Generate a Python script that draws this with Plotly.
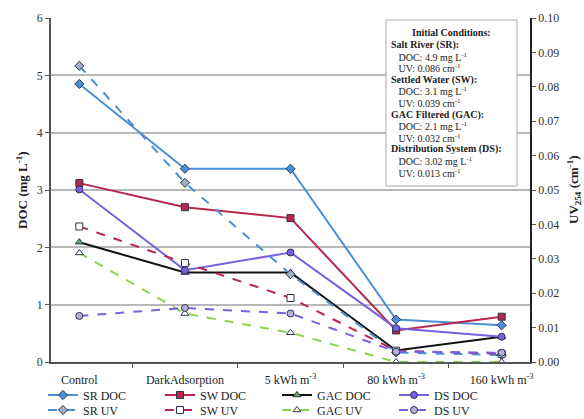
import plotly.graph_objects as go

categories = ["Control", "DarkAdsorption", "5 kWh m<sup>-3</sup>", "80 kWh m<sup>-3</sup>", "160 kWh m<sup>-3</sup>"]
sr_doc = [4.85, 3.37, 3.37, 0.74, 0.64]
sw_doc = [3.12, 2.70, 2.51, 0.55, 0.79]
gac_doc = [2.09, 1.56, 1.56, 0.20, 0.44]
ds_doc = [3.01, 1.60, 1.91, 0.59, 0.44]
sr_uv = [0.0861, 0.0521, 0.0255, 0.0028, 0.0020]
sw_uv = [0.0394, 0.0288, 0.0186, 0.0033, 0.0024]
gac_uv = [0.0317, 0.0141, 0.0085, 0.0, 0.0]
ds_uv = [0.0134, 0.0157, 0.0141, 0.0030, 0.0027]
doc_ticks = [0, 1, 2, 3, 4, 5, 6]
uv_ticks = [0.00, 0.01, 0.02, 0.03, 0.04, 0.05, 0.06, 0.07, 0.08, 0.09, 0.10]

SR = "#4a90d9"
SW = "#b8264c"
GACL = "#8fd14f"
DS = "#7a5fe0"
OUT = "#2b3550"

FONT = "'Liberation Serif', 'Times New Roman', Times, serif"

L, R, T, B = 51, 54, 18, 57
W, H = 584, 419
PW, PH = W - L - R, H - T - B

def px_x(x):
    return (x - L) / PW

def px_y(y):
    return (H - B - y) / PH

fig = go.Figure()

def add(name, y, color, symbol, fill, dash, axis, legend, lw=2, msize=7):
    fig.add_trace(go.Scatter(
        x=categories, y=y, name=name, mode="lines+markers",
        yaxis=axis, legend=legend,
        line=dict(color=color, width=lw, dash=dash),
        marker=dict(symbol=symbol, size=msize, color=fill, line=dict(color=OUT, width=1)),
    ))

add("SR DOC", sr_doc, SR, "diamond", SR, "solid", "y", "legend")
add("SW DOC", sw_doc, SW, "square", SW, "solid", "y", "legend")
add("GAC DOC", gac_doc, "#111111", "triangle-up", "#6aa84f", "solid", "y", "legend")
add("DS DOC", ds_doc, DS, "circle", DS, "solid", "y", "legend")
add("SR UV", sr_uv, SR, "diamond", "#9fb0c4", "dash", "y2", "legend2")
add("SW UV", sw_uv, SW, "square", "white", "dash", "y2", "legend2")
add("GAC UV", gac_uv, GACL, "triangle-up", "white", "dash", "y2", "legend2")
add("DS UV", ds_uv, DS, "circle", "#b6b0d8", "dash", "y2", "legend2")

legend_common = dict(
    orientation="h", x=px_x(43), xanchor="left", yanchor="middle",
    entrywidth=72, entrywidthmode="pixels", font=dict(family=FONT, size=12),
    tracegroupgap=0, itemwidth=30, bgcolor="rgba(0,0,0,0)",
)

fig.update_layout(
    width=W, height=H,
    margin=dict(l=L, r=R, t=T, b=B, autoexpand=False),
    paper_bgcolor="white", plot_bgcolor="white",
    font=dict(family=FONT, size=12, color="#222"),
    xaxis=dict(
        type="category", showgrid=False, showline=True, linecolor="#555", linewidth=1.5,
        ticks="outside", tickson="boundaries", ticklen=4, tickcolor="#555",
        ticklabelstandoff=6,
        tickfont=dict(family=FONT, size=12, color="#222"),
    ),
    yaxis=dict(
        range=[0, 6], tickvals=doc_ticks, showgrid=True, gridcolor="#b8b8b8", gridwidth=1.5,
        showline=True, linecolor="#555", linewidth=1.5, ticks="outside", ticklen=4, tickcolor="#555",
        zeroline=False,
        tickfont=dict(family=FONT, size=12, color="#333"),
    ),
    yaxis2=dict(
        range=[0, 0.10], tickvals=uv_ticks, tickformat=".2f", overlaying="y", side="right",
        showgrid=False, showline=True, linecolor="#222", linewidth=1.5, ticks="outside",
        ticklen=4, tickcolor="#555", zeroline=False,
        tickfont=dict(family=FONT, size=12, color="#333"),
    ),
    legend=dict(legend_common, y=px_y(395)),
    legend2=dict(legend_common, y=px_y(410)),
    showlegend=True,
)

# axis titles
fig.add_annotation(xref="paper", yref="paper", x=px_x(22), y=0.5, xanchor="center", yanchor="middle",
                   text="<b>DOC (mg L<sup>-1</sup>)</b>", textangle=-90, showarrow=False,
                   font=dict(family=FONT, size=13, color="#222"))
fig.add_annotation(xref="paper", yref="paper", x=1, xshift=574 - (L + PW), y=0.5,
                   xanchor="center", yanchor="middle",
                   text="<b>UV<sub>254</sub> (cm<sup>-1</sup>)</b>", textangle=-90, showarrow=False,
                   font=dict(family=FONT, size=13, color="#222"))

# Initial conditions box
fig.add_shape(type="rect", xref="paper", yref="paper", x0=px_x(386), x1=px_x(517), y0=px_y(186), y1=px_y(20),
              line=dict(color="#aaaaaa", width=1), fillcolor="white", layer="above")
fig.add_annotation(xref="paper", yref="paper", x=px_x(451), y=px_y(33), xanchor="center", yanchor="middle",
                   text="<b>Initial Conditions:</b>", showarrow=False,
                   font=dict(family=FONT, size=10, color="#222"))
body = [
    "<b>Salt River (SR):</b>",
    "&nbsp;&nbsp;&nbsp;DOC: 4.9 mg L<sup>-1</sup>",
    "&nbsp;&nbsp;&nbsp;UV: 0.086 cm<sup>-1</sup>",
    "<b>Settled Water (SW):</b>",
    "&nbsp;&nbsp;&nbsp;DOC: 3.1 mg L<sup>-1</sup>",
    "&nbsp;&nbsp;&nbsp;UV: 0.039 cm<sup>-1</sup>",
    "<b>GAC Filtered (GAC):</b>",
    "&nbsp;&nbsp;&nbsp;DOC: 2.1 mg L<sup>-1</sup>",
    "&nbsp;&nbsp;&nbsp;UV: 0.032 cm<sup>-1</sup>",
    "<b>Distribution System (DS):</b>",
    "&nbsp;&nbsp;&nbsp;DOC: 3.02 mg L<sup>-1</sup>",
    "&nbsp;&nbsp;&nbsp;UV: 0.013 cm<sup>-1</sup>",
]
for i, line in enumerate(body):
    ypix = 45 + i * 11.6
    fig.add_annotation(xref="paper", yref="paper", x=px_x(389), y=px_y(ypix),
                       xanchor="left", yanchor="middle", text=line, showarrow=False,
                       font=dict(family=FONT, size=10, color="#222"))

fig.write_html("out.html", config={"displayModeBar": False},
               post_script="document.body.style.margin='0';")
